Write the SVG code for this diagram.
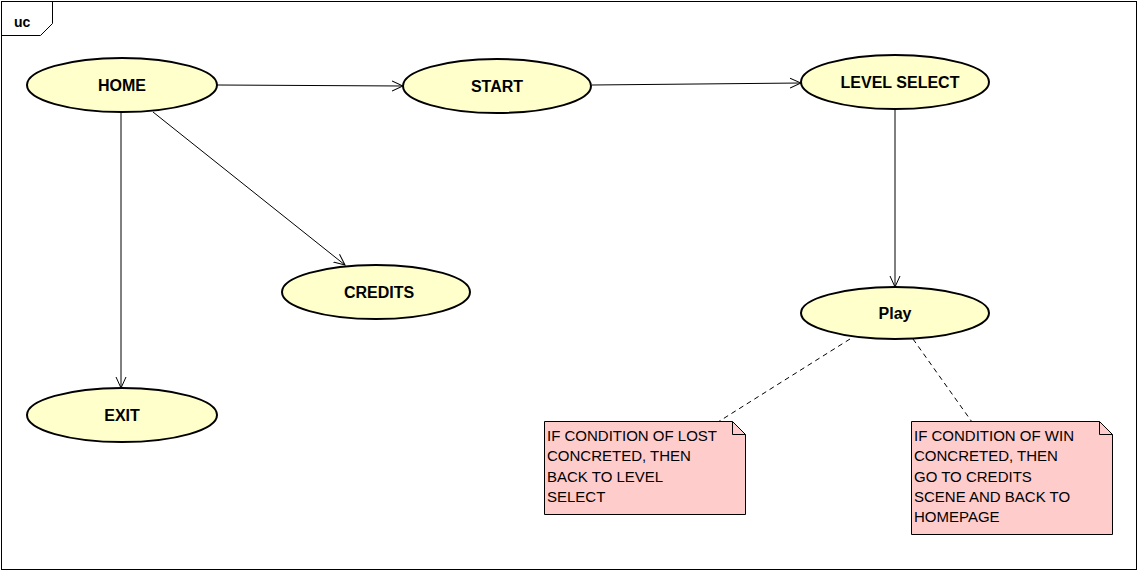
<svg xmlns="http://www.w3.org/2000/svg" width="1139" height="572" viewBox="0 0 1139 572">
<style>
.uc{fill:#ffffcc;stroke:#000;stroke-width:2}
.lbl{font-family:"Liberation Sans",Arial,sans-serif;font-size:16px;font-weight:bold;text-anchor:middle;fill:#000}
.note{fill:#ffcccc;stroke:#000;stroke-width:1}
.ntxt{font-family:"Liberation Sans",Arial,sans-serif;font-size:15px;fill:#000}
.edge{stroke:#000;stroke-width:1;fill:none}
.dash{stroke:#000;stroke-width:1;fill:none;stroke-dasharray:5,4}
</style>
<defs>
<marker id="open" viewBox="0 0 12 12" refX="11" refY="6" markerWidth="12" markerHeight="12" markerUnits="userSpaceOnUse" orient="auto">
<path d="M0,1 L11,6 L0,11" fill="none" stroke="#000" stroke-width="1"/>
</marker>
</defs>
<rect width="1139" height="572" fill="#fff"/>
<g id="frame">
<rect x="1.5" y="1.5" width="1135" height="568" fill="none" stroke="#000" stroke-width="1"/>
<path d="M1.5,35.5 H40.5 L52.5,23.5 V1.5" fill="none" stroke="#000" stroke-width="1"/>
<text x="14" y="27" font-family="Liberation Sans,Arial,sans-serif" font-size="14" font-weight="bold">uc</text>
</g>
<g id="connectors">
<line class="edge" x1="217" y1="85" x2="403" y2="86" marker-end="url(#open)"/>
<line class="edge" x1="592" y1="85" x2="801" y2="83" marker-end="url(#open)"/>
<line class="edge" x1="121" y1="112" x2="121" y2="388" marker-end="url(#open)"/>
<line class="edge" x1="153" y1="112" x2="345" y2="265" marker-end="url(#open)"/>
<line class="edge" x1="895" y1="108" x2="895" y2="287" marker-end="url(#open)"/>
<line class="dash" x1="850" y1="339" x2="718" y2="422"/>
<line class="dash" x1="913" y1="339" x2="972" y2="422"/>
</g>
<g id="home">
<ellipse class="uc" cx="122" cy="85" rx="95" ry="27"/>
<text class="lbl" x="122" y="91">HOME</text>
</g>
<g id="start">
<ellipse class="uc" cx="497" cy="86" rx="94" ry="27"/>
<text class="lbl" x="497" y="92">START</text>
</g>
<g id="levelselect">
<ellipse class="uc" cx="895" cy="82" rx="94" ry="27"/>
<text class="lbl" x="900" y="88">LEVEL SELECT</text>
</g>
<g id="credits">
<ellipse class="uc" cx="376" cy="292" rx="94" ry="27"/>
<text class="lbl" x="379" y="298">CREDITS</text>
</g>
<g id="exit">
<ellipse class="uc" cx="122" cy="415" rx="95" ry="27"/>
<text class="lbl" x="122" y="421">EXIT</text>
</g>
<g id="play">
<ellipse class="uc" cx="895" cy="313" rx="94" ry="26"/>
<text class="lbl" x="895" y="319">Play</text>
</g>
<g id="note-lost">
<path class="note" d="M544.5,421.5 H732.5 L745.5,434.5 V514.5 H544.5 Z"/>
<path d="M732.5,421.5 V434.5 H745.5" fill="none" stroke="#000" stroke-width="1"/>
<text class="ntxt" x="547" y="441">IF CONDITION OF LOST</text>
<text class="ntxt" x="547" y="461">CONCRETED, THEN</text>
<text class="ntxt" x="547" y="482">BACK TO LEVEL</text>
<text class="ntxt" x="547" y="502">SELECT</text>
</g>
<g id="note-win">
<path class="note" d="M911.5,421.5 H1099.5 L1112.5,434.5 V534.5 H911.5 Z"/>
<path d="M1099.5,421.5 V434.5 H1112.5" fill="none" stroke="#000" stroke-width="1"/>
<text class="ntxt" x="914" y="441">IF CONDITION OF WIN</text>
<text class="ntxt" x="914" y="461">CONCRETED, THEN</text>
<text class="ntxt" x="914" y="482">GO TO CREDITS</text>
<text class="ntxt" x="914" y="502">SCENE AND BACK TO</text>
<text class="ntxt" x="914" y="522">HOMEPAGE</text>
</g>
</svg>
